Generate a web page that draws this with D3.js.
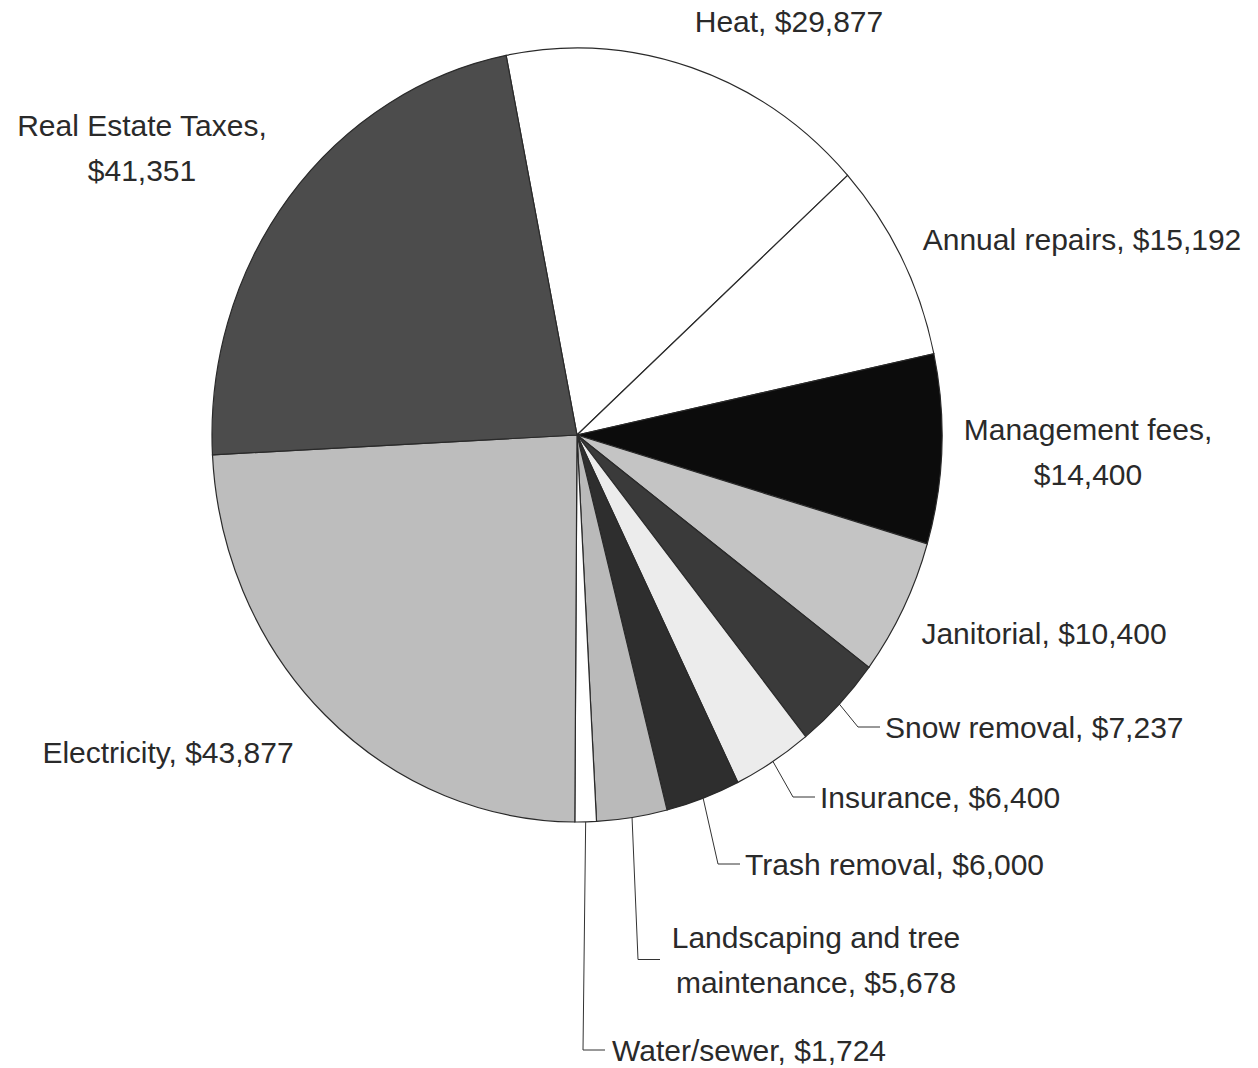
<!DOCTYPE html>
<html>
<head>
<meta charset="utf-8">
<script src="https://cdn.jsdelivr.net/npm/d3@7"></script>
<style>
  html, body { margin: 0; padding: 0; background: #fff; }
  svg text { font-family: "Liberation Sans", Arial, sans-serif; font-size: 30px; fill: #2a2a2a; }
</style>
</head>
<body>
<svg id="chart" width="1258" height="1068"></svg>
<script>
// Operating expenses, clockwise from the top
const categories = ['Heat', 'Annual repairs', 'Management fees', 'Janitorial', 'Snow removal',
  'Insurance', 'Trash removal', 'Landscaping and tree maintenance', 'Water/sewer',
  'Electricity', 'Real Estate Taxes'];
const values = [29877, 15192, 14400, 10400, 7237, 6400, 6000, 5678, 1724, 43877, 41351];
const fills = ['#ffffff', '#ffffff', '#0c0c0c', '#c4c4c4', '#3a3a3a', '#ececec',
  '#2e2e2e', '#bababa', '#ffffff', '#bdbdbd', '#4c4c4c'];

// label layout: text lines, anchor position, leader end (if any)
const labelLines = [
  ['Heat, $29,877'],
  ['Annual repairs, $15,192'],
  ['Management fees,', '$14,400'],
  ['Janitorial, $10,400'],
  ['Snow removal, $7,237'],
  ['Insurance, $6,400'],
  ['Trash removal, $6,000'],
  ['Landscaping and tree', 'maintenance, $5,678'],
  ['Water/sewer, $1,724'],
  ['Electricity, $43,877'],
  ['Real Estate Taxes,', '$41,351']
];
const labelPos = [
  { x: 789, y: 32, anchor: 'middle' },
  { x: 1082, y: 250, anchor: 'middle' },
  { x: 1088, y: 440, anchor: 'middle' },
  { x: 1044, y: 644, anchor: 'middle' },
  { x: 885, y: 738, anchor: 'start', lead: 880 },
  { x: 820, y: 808, anchor: 'start', lead: 815 },
  { x: 745, y: 875, anchor: 'start', lead: 740 },
  { x: 816, y: 948, anchor: 'middle', lead: 660 },
  { x: 612, y: 1061, anchor: 'start', lead: 605 },
  { x: 168, y: 763, anchor: 'middle' },
  { x: 142, y: 136, anchor: 'middle' }
];

const cx = 577, cy = 435, rx = 365, ry = 387;
const lineGap = 45;
const startAngle = -11.2 * Math.PI / 180;

const svg = d3.select('#chart');

const pie = d3.pie().sort(null).value(d => d.value)
  .startAngle(startAngle).endAngle(startAngle + 2 * Math.PI);
const data = categories.map((c, i) => ({ name: c, value: values[i], fill: fills[i], i: i }));
const arcs = pie(data);
const arc = d3.arc().innerRadius(0).outerRadius(rx);

// pie is slightly taller than wide
const pieG = svg.append('g')
  .attr('transform', `translate(${cx},${cy}) scale(1,${ry / rx})`);

pieG.selectAll('path')
  .data(arcs)
  .join('path')
  .attr('d', arc)
  .attr('fill', d => d.data.fill)
  .attr('stroke', '#2a2a2a')
  .attr('stroke-width', 1.2)
  .attr('vector-effect', 'non-scaling-stroke');

// leader lines
arcs.forEach((d, i) => {
  const p = labelPos[i];
  if (p.lead === undefined) return;
  const mid = (d.startAngle + d.endAngle) / 2;
  const ex = cx + rx * Math.sin(mid);
  const ey = cy - ry * Math.cos(mid);
  const ly = p.y - 11 + (labelLines[i].length - 1) * lineGap / 2;
  svg.append('polyline')
    .attr('points', [[ex, ey], [p.lead - 22, ly], [p.lead, ly]].map(q => q.join(',')).join(' '))
    .attr('fill', 'none')
    .attr('stroke', '#333')
    .attr('stroke-width', 1);
});

// labels
labelLines.forEach((lines, i) => {
  const p = labelPos[i];
  const t = svg.append('text')
    .attr('text-anchor', p.anchor)
    .attr('x', p.x)
    .attr('y', p.y);
  lines.forEach((ln, k) => {
    t.append('tspan')
      .attr('x', p.x)
      .attr('dy', k === 0 ? 0 : lineGap)
      .text(ln);
  });
});
</script>
</body>
</html>
